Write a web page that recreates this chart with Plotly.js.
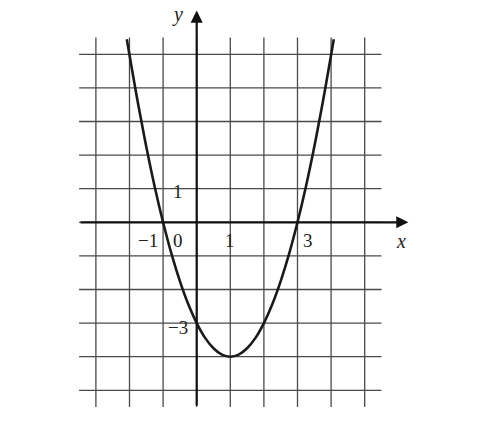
<!DOCTYPE html>
<html>
<head>
<meta charset="utf-8">
<script src="https://cdn.plot.ly/plotly-3.0.1.min.js"></script>
<style>
  html, body { margin: 0; padding: 0; background: #fff; }
  #chart { width: 500px; height: 421px; }
</style>
</head>
<body>
<div id="chart"></div>
<script>
// parabola points
const curveX = [-2.08, -1.75, -1.5, -1.25, -1, -0.75, -0.5, -0.25, 0, 0.25, 0.5, 0.75, 1,
                1.25, 1.5, 1.75, 2, 2.25, 2.5, 2.75, 3, 3.25, 3.5, 3.75, 4.08];
const curveY = [5.45, 3.56, 2.25, 1.06, 0, -0.94, -1.75, -2.44, -3, -3.44, -3.75, -3.94, -4,
                -3.94, -3.75, -3.44, -3, -2.44, -1.75, -0.94, 0, 1.06, 2.25, 3.56, 5.45];

// grid lines
const gridX = [-3, -2, -1, 0, 1, 2, 3, 4, 5];
const gridY = [-5, -4, -3, -2, -1, 0, 1, 2, 3, 4, 5];

// labels
const tickText = ["\u22121", "0", "1", "3", "1", "\u22123"];
const tickPosX = [-1.45, -0.57, 0.99, 3.3, -0.57, -0.55];
const tickPosY = [-0.55, -0.55, -0.55, -0.55, 0.92, -3.12];

const chartDiv = document.getElementById("chart");

const gridColor = "#4a4a4a";
let shapes = [];
gridX.forEach((gx) => {
  shapes.push({
    type: "line", xref: "x", yref: "y",
    x0: gx, x1: gx, y0: -5.5, y1: 5.5,
    line: { color: gridColor, width: 1.3 },
    layer: "below",
  });
});
gridY.forEach((gy) => {
  shapes.push({
    type: "line", xref: "x", yref: "y",
    x0: -3.5, x1: 5.5, y0: gy, y1: gy,
    line: { color: gridColor, width: 1.3 },
    layer: "below",
  });
});

let curveTrace = {
  x: curveX,
  y: curveY,
  mode: "lines",
  type: "scatter",
  line: { color: "#1a1a1a", width: 2.6, shape: "spline", smoothing: 1 },
  hoverinfo: "skip",
};

const serif = "Liberation Serif, DejaVu Serif, serif";
let annotations = [];
tickText.forEach((t, i) => {
  annotations.push({
    x: tickPosX[i], y: tickPosY[i], xref: "x", yref: "y",
    text: t, showarrow: false,
    font: { family: serif, size: 19, color: "#222" },
  });
});
// axis labels
annotations.push({
  x: 6.07, y: -0.55, xref: "x", yref: "y", text: "<i>x</i>", showarrow: false,
  font: { family: serif, size: 20, color: "#222" },
});
annotations.push({
  x: -0.58, y: 6.17, xref: "x", yref: "y", text: "<i>y</i>", showarrow: false,
  font: { family: serif, size: 20, color: "#222" },
});
// axes with arrows
annotations.push({
  x: 6.3, y: 0, ax: -3.5, ay: 0, xref: "x", yref: "y", axref: "x", ayref: "y",
  text: "", showarrow: true, arrowhead: 2, arrowsize: 1.1, arrowwidth: 2.2,
  arrowcolor: "#111",
});
annotations.push({
  x: 0, y: 6.3, ax: 0, ay: -5.5, xref: "x", yref: "y", axref: "x", ayref: "y",
  text: "", showarrow: true, arrowhead: 2, arrowsize: 1.1, arrowwidth: 2.2,
  arrowcolor: "#111",
});

let layout = {
  width: 500,
  height: 421,
  margin: { l: 0, r: 0, t: 0, b: 0 },
  paper_bgcolor: "#fff",
  plot_bgcolor: "#fff",
  showlegend: false,
  xaxis: { range: [-5.854, 9.027], visible: false, fixedrange: true },
  yaxis: { range: [-5.914, 6.616], visible: false, fixedrange: true },
  shapes: shapes,
  annotations: annotations,
};

Plotly.newPlot(chartDiv, [curveTrace], layout, { displayModeBar: false, staticPlot: true });
</script>
</body>
</html>
